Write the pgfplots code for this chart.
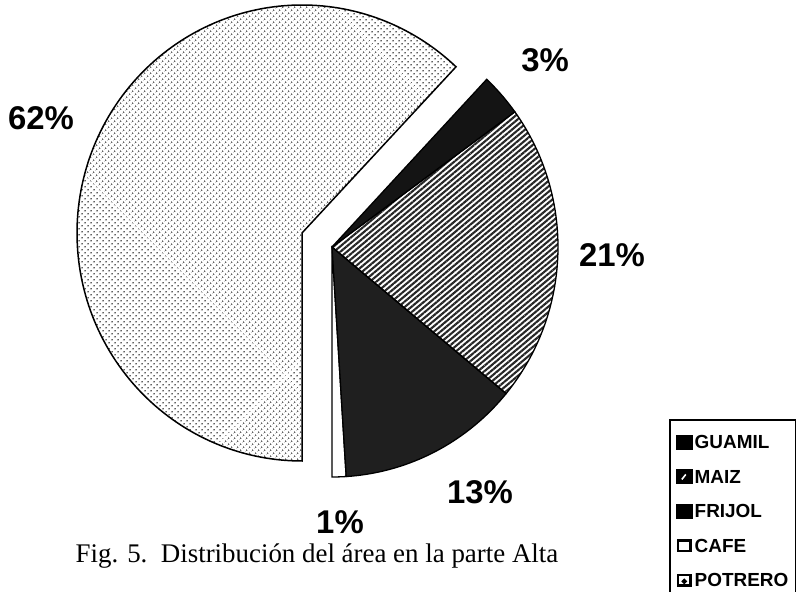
\documentclass[border=0pt]{standalone}
\usepackage{pgfplots}
\pgfplotsset{compat=1.18}
\usetikzlibrary{patterns,patterns.meta}
\usepackage{fontspec}
\setmainfont{Liberation Serif}
\newfontfamily\labfont{Liberation Sans}

% data: share of the area (percent)
\def\pGUAMIL{3}
\def\pMAIZ{21}
\def\pFRIJOL{13}
\def\pCAFE{1}
\def\pPOTRERO{62}

\begin{document}
\begin{tikzpicture}
\pgfmathsetmacro\aA{270}
\pgfmathsetmacro\aB{\aA+3.6*\pCAFE}
\pgfmathsetmacro\aC{\aB+3.6*\pFRIJOL}
\pgfmathsetmacro\aD{\aC+3.6*\pMAIZ}
\pgfmathsetmacro\aE{\aD+3.6*\pGUAMIL}
\pgfmathsetmacro\aF{\aE+3.6*\pPOTRERO}
\begin{axis}[
  width=796bp, height=592bp, scale only axis,
  xmin=0, xmax=796, ymin=0, ymax=592,
  hide axis, clip=false,
  legend cell align=left,
  legend style={
    at={(axis cs:669,173)}, anchor=north west,
    draw=black, line width=1.8bp, fill=white,
    font=\labfont\bfseries\fontsize{19}{19}\selectfont,
    inner xsep=6bp, inner ysep=14bp,
    row sep=17.5bp,
    nodes={inner sep=2bp, text height=13bp, text depth=0bp},
  },
]
% main pie (centre 332,345)
\addplot[forget plot, draw=black, line width=1.3bp, fill=white, domain=\aA:\aB, samples=6, variable=\t]
  ({332+226*cos(\t)},{345+230*sin(\t)}) -- (axis cs:332,345) -- cycle;
\addplot[forget plot, draw=black, line width=1.3bp, fill=black!88, domain=\aB:\aC, samples=40, variable=\t]
  ({332+226*cos(\t)},{345+230*sin(\t)}) -- (axis cs:332,345) -- cycle;
\addplot[forget plot, draw=black, line width=1.3bp, pattern={Lines[angle=40,distance=4.2pt,line width=2.1pt]}, pattern color=black!85, domain=\aC:\aD, samples=60, variable=\t]
  ({332+226*cos(\t)},{345+230*sin(\t)}) -- (axis cs:332,345) -- cycle;
\addplot[forget plot, draw=black, line width=1.3bp, fill=black!92, domain=\aD:\aE, samples=10, variable=\t]
  ({332+226*cos(\t)},{345+230*sin(\t)}) -- (axis cs:332,345) -- cycle;
% exploded slice (centre 302,359)
\addplot[forget plot, draw=black, line width=1.5bp, pattern={Dots[radius=1pt,distance=4pt,angle=45]}, pattern color=black!62, domain=\aE:\aF, samples=160, variable=\t]
  ({302+225*cos(\t)},{359+228*sin(\t)}) -- (axis cs:302,359) -- cycle;

% labels
\node[anchor=base, font=\labfont\bfseries\fontsize{33}{33}\selectfont] at (axis cs:41,462) {62\%};
\node[anchor=base, font=\labfont\bfseries\fontsize{33}{33}\selectfont] at (axis cs:545,520) {3\%};
\node[anchor=base, font=\labfont\bfseries\fontsize{33}{33}\selectfont] at (axis cs:612,325) {21\%};
\node[anchor=base, font=\labfont\bfseries\fontsize{33}{33}\selectfont] at (axis cs:480,88) {13\%};
\node[anchor=base, font=\labfont\bfseries\fontsize{33}{33}\selectfont] at (axis cs:340,58) {1\%};
\node[anchor=base, font=\fontsize{27}{28}\selectfont] at (axis cs:317,30) {Fig. 5.\ \ Distribución del área en la parte Alta};

% legend
\addlegendimage{legend image code/.code={\fill[black] (0bp,-6.5bp) rectangle (15bp,6.5bp);}}
\addlegendentry{GUAMIL}
\addlegendimage{legend image code/.code={\fill[black] (0bp,-6.5bp) rectangle (15bp,6.5bp); \draw[white,line width=1.6bp] (5bp,-2.5bp) -- (9bp,2.5bp);}}
\addlegendentry{MAIZ}
\addlegendimage{legend image code/.code={\fill[black] (0bp,-6.5bp) rectangle (15bp,6.5bp);}}
\addlegendentry{FRIJOL}
\addlegendimage{legend image code/.code={\draw[black,line width=2.5bp,fill=white] (1.3bp,-5.2bp) rectangle (13.7bp,5.2bp);}}
\addlegendentry{CAFE}
\addlegendimage{legend image code/.code={\draw[black,line width=2.5bp,fill=white] (1.3bp,-5.2bp) rectangle (13.7bp,5.2bp); \fill[black] (7.5bp,-1bp) circle (1.7bp);}}
\addlegendentry{POTRERO}
\end{axis}
\pgfresetboundingbox
\path[use as bounding box] (current axis.south west) rectangle (current axis.north east);
\end{tikzpicture}
\end{document}
